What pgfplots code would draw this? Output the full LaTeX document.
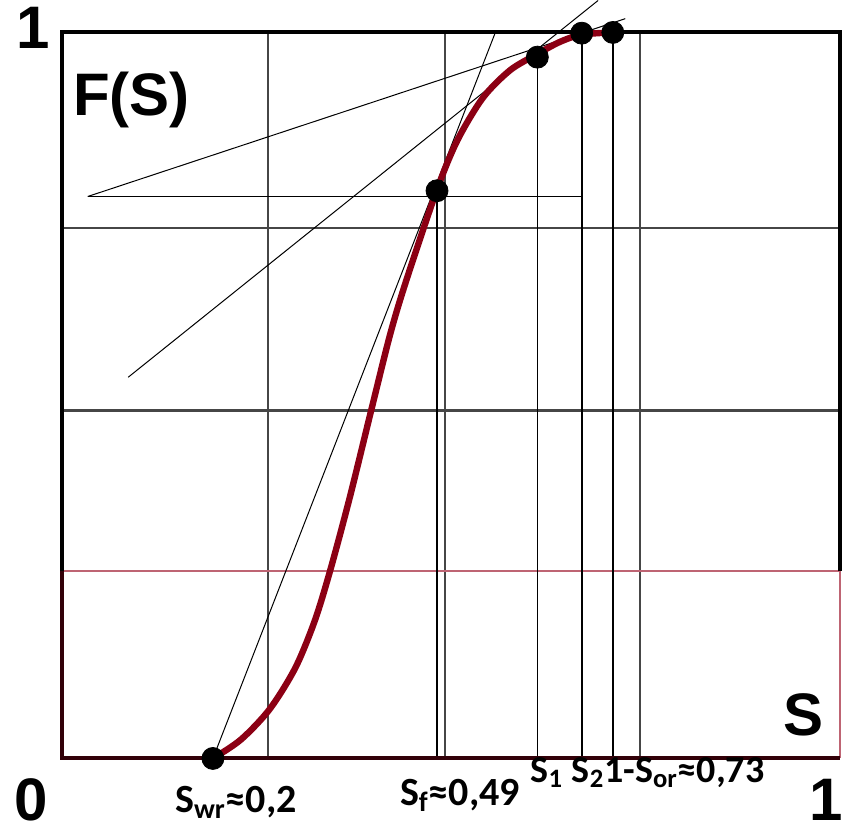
\documentclass[border=0pt]{standalone}
\usepackage{pgfplots}
\pgfplotsset{compat=1.18}
\usepackage{fontspec}
\setmainfont{Liberation Sans}
\newfontfamily\lblfont{Carlito}
\definecolor{curvered}{RGB}{140,0,20}
\definecolor{thinred}{RGB}{190,100,115}
\definecolor{darkframe}{RGB}{50,0,8}
\definecolor{gridgray}{RGB}{70,70,70}
\begin{document}
\begin{tikzpicture}
\begin{axis}[
  width=389pt, height=363pt, scale only axis,
  xmin=0, xmax=1, ymin=0, ymax=1,
  axis lines=none, clip=false,
  ]
\path (axis cs:-0.0797,-0.1019) rectangle (axis cs:1.009,1.044);
% grid lines
\addplot[gridgray, line width=1pt] coordinates {(0.265,0) (0.265,1)};
\addplot[gridgray, line width=1pt] coordinates {(0.492,0) (0.492,1)};
\addplot[gridgray, line width=1pt] coordinates {(0.743,0) (0.743,1)};
\addplot[gridgray, line width=1pt] coordinates {(0,0.731) (1,0.731)};
\addplot[gridgray, line width=1.2pt] coordinates {(0,0.479) (1,0.479)};
\addplot[thinred, line width=1.1pt] coordinates {(0,0.258) (1,0.258)};
\addplot[black, line width=0.8pt] coordinates {(0.482,0) (0.482,0.782)};
\addplot[black, line width=0.8pt] coordinates {(0.611,0) (0.611,0.967)};
\addplot[black, line width=0.8pt] coordinates {(0.668,0) (0.668,1)};
\addplot[black, line width=0.8pt] coordinates {(0.708,0) (0.708,1)};
\addplot[black, line width=0.8pt] coordinates {(0.033,0.774) (0.668,0.774)};
% tangents
\addplot[black, line width=0.5pt] coordinates {(0.194,0) (0.557,1)};
\addplot[black, line width=0.5pt] coordinates {(0.085,0.525) (0.689,1.044)};
\addplot[black, line width=0.5pt] coordinates {(0.033,0.774) (0.724,1.019)};
% frame
\addplot[black, line width=2pt, line join=miter] coordinates {(0,0.258) (0,1) (1,1) (1,0.258)};
\addplot[thinred, line width=1pt] coordinates {(1,0) (1,0.258)};
\addplot[darkframe, line width=2pt, line join=miter] coordinates {(0,0.258) (0,0) (1,0)};
% curve
\addplot[curvered, line width=3.2pt, smooth] coordinates {
(0.194,0) (0.23,0.026) (0.267,0.068) (0.30,0.125) (0.325,0.19)
(0.345,0.26) (0.37,0.36) (0.398,0.482) (0.422,0.585) (0.443,0.66)
(0.4816,0.7824) (0.508,0.851) (0.541,0.910) (0.576,0.948) (0.6105,0.970)
(0.640,0.987) (0.668,0.997) (0.708,1.0)};
% points
\addplot[only marks, mark=*, mark size=5.5pt, black] coordinates {
(0.194,0) (0.482,0.782) (0.611,0.966) (0.668,0.999) (0.708,1.0)};
% labels
\node[font=\fontsize{30}{30}\selectfont\bfseries, inner sep=0pt] at (axis cs:-0.037,1.007) {1};
\node[font=\fontsize{30}{30}\selectfont\bfseries, inner sep=0pt] at (axis cs:-0.040,-0.057) {0};
\node[font=\fontsize{30}{30}\selectfont\bfseries, inner sep=0pt] at (axis cs:0.982,-0.057) {1};
\node[font=\fontsize{30}{30}\selectfont\bfseries, anchor=base west, inner sep=0pt] at (axis cs:0.014,0.886) {F(S)};
\node[font=\fontsize{30}{30}\selectfont\bfseries, anchor=base west, inner sep=0pt] at (axis cs:0.927,0.032) {S};
\node[font=\lblfont\fontsize{20}{20}\selectfont\bfseries, anchor=base west, inner sep=0pt] at (axis cs:0.145,-0.074) {S\textsubscript{wr}≈0,2};
\node[font=\lblfont\fontsize{20}{20}\selectfont\bfseries, anchor=base west, inner sep=0pt] at (axis cs:0.434,-0.065) {S\textsubscript{f}≈0,49};
\node[font=\lblfont\fontsize{19}{19}\selectfont\bfseries, anchor=base west, inner sep=0pt] at (axis cs:0.602,-0.033) {S\textsubscript{1} S\textsubscript{2}1-S\textsubscript{or}≈0,73};
\end{axis}
\end{tikzpicture}
\end{document}
